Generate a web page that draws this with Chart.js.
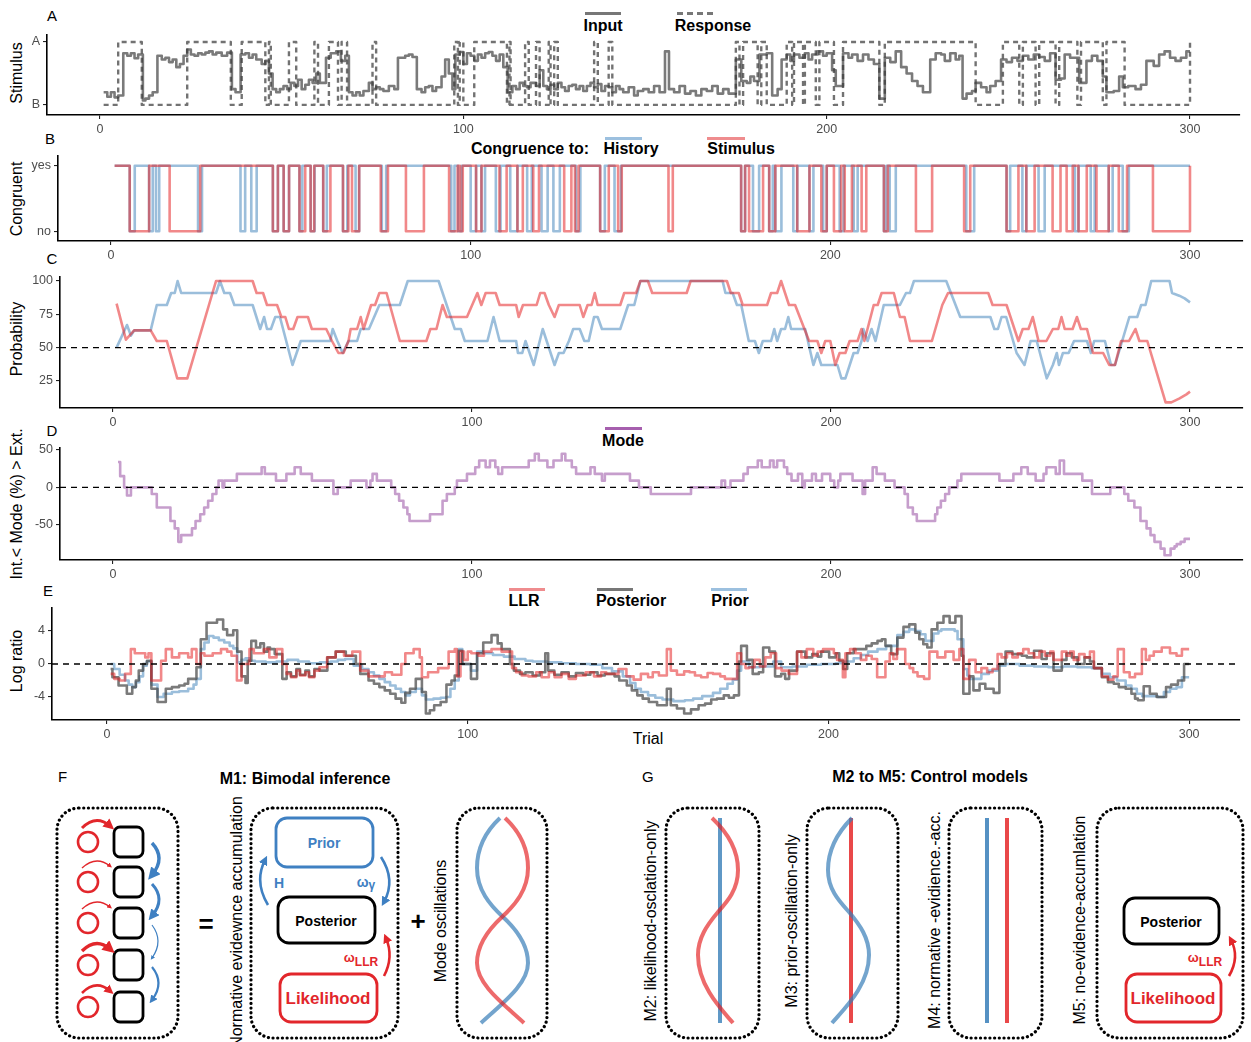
<!DOCTYPE html>
<html>
<head>
<meta charset="utf-8">
<script src="https://cdn.jsdelivr.net/npm/chart.js@4.4.1/dist/chart.umd.min.js"></script>
<style>
  body { margin:0; background:#fff; width:1251px; height:1042px; overflow:hidden; position:relative;
         font-family:'Liberation Sans', Arial, sans-serif; color:#000; }
  canvas { position:absolute; left:0; }
  .lab { position:absolute; font-size:15px; transform:translate(-50%,-50%); }
  .ytitle { position:absolute; font-size:16px; white-space:nowrap; transform:translate(-50%,-50%) rotate(-90deg); }
  .leg { position:absolute; font-size:16px; font-weight:bold; white-space:nowrap; transform:translate(-50%,-50%); }
  .key { position:absolute; height:0; border-top-width:3px; border-top-style:solid; }
  svg { position:absolute; left:0; top:0; }
</style>
</head>
<body>

<!-- panel letters -->
<div class="lab" style="left:52px;top:15px">A</div>
<div class="lab" style="left:50px;top:138px">B</div>
<div class="lab" style="left:52px;top:258px">C</div>
<div class="lab" style="left:52px;top:430px">D</div>
<div class="lab" style="left:48px;top:590px">E</div>

<!-- axis titles -->
<div class="ytitle" style="left:17px;top:73px">Stimulus</div>
<div class="ytitle" style="left:17px;top:199px">Congruent</div>
<div class="ytitle" style="left:17px;top:339px">Probability</div>
<div class="ytitle" style="left:17px;top:504px">Int.&lt; Mode (%) &gt; Ext.</div>
<div class="ytitle" style="left:17px;top:661px">Log ratio</div>
<div class="lab" style="left:648px;top:739px;font-size:16px">Trial</div>

<!-- legends -->
<div class="key" style="left:585px;top:12px;width:36px;border-top-color:#777"></div>
<div class="leg" style="left:603px;top:26px">Input</div>
<div class="key" style="left:677px;top:12px;width:36px;border-top-color:#777;border-top-style:dashed"></div>
<div class="leg" style="left:713px;top:26px">Response</div>

<div class="leg" style="left:530px;top:149px">Congruence to:</div>
<div class="key" style="left:605px;top:137px;width:37px;border-top-color:#9cc0df"></div>
<div class="leg" style="left:631px;top:149px">History</div>
<div class="key" style="left:707px;top:137px;width:38px;border-top-color:#ef8c8e"></div>
<div class="leg" style="left:741px;top:149px">Stimulus</div>

<div class="key" style="left:605px;top:427px;width:37px;border-top-color:#a65fae"></div>
<div class="leg" style="left:623px;top:441px">Mode</div>

<div class="key" style="left:509px;top:588px;width:36px;border-top-color:#ef8c8e"></div>
<div class="leg" style="left:524px;top:601px">LLR</div>
<div class="key" style="left:597px;top:588px;width:36px;border-top-color:#777"></div>
<div class="leg" style="left:631px;top:601px">Posterior</div>
<div class="key" style="left:711px;top:588px;width:36px;border-top-color:#9cc0df"></div>
<div class="leg" style="left:730px;top:601px">Prior</div>

<!-- model sketches -->
<svg width="1251" height="1042" font-family="Liberation Sans, Arial, sans-serif">
  <defs>
    <marker id="hR" viewBox="0 0 10 10" refX="5" refY="5" markerWidth="3.6" markerHeight="3.6" orient="auto">
      <path d="M0,0 L10,5 L0,10 z" fill="#e2262b"/>
    </marker>
    <marker id="hB" viewBox="0 0 10 10" refX="5" refY="5" markerWidth="3.6" markerHeight="3.6" orient="auto">
      <path d="M0,0 L10,5 L0,10 z" fill="#3f80c2"/>
    </marker>
  </defs>
  <g fill="none" stroke="#000" stroke-width="3.2" stroke-dasharray="0.1 4.6" stroke-linecap="round">
    <rect x="57" y="808" width="121" height="230" rx="22"/>
    <rect x="251" y="808" width="147" height="230" rx="22"/>
    <rect x="457" y="808" width="90" height="230" rx="22"/>
    <rect x="666" y="808" width="93" height="230" rx="22"/>
    <rect x="807" y="808" width="91" height="230" rx="22"/>
    <rect x="949" y="808" width="93" height="230" rx="22"/>
    <rect x="1097" y="808" width="146" height="230" rx="22"/>
  </g>
  <text x="58" y="782" font-size="15">F</text>
  <text x="305" y="784" font-size="16" font-weight="bold" text-anchor="middle">M1: Bimodal inference</text>
  <text x="642" y="782" font-size="15">G</text>
  <text x="930" y="782" font-size="16" font-weight="bold" text-anchor="middle">M2 to M5: Control models</text>

  <!-- F: trial chain -->
  <g fill="none" stroke="#e2262b" stroke-width="2.6">
    <circle cx="88" cy="842" r="10"/><circle cx="88" cy="882" r="10"/><circle cx="88" cy="923" r="10"/>
    <circle cx="88" cy="965" r="10"/><circle cx="88" cy="1007" r="10"/>
  </g>
  <g fill="none" stroke="#000" stroke-width="2.8">
    <rect x="114" y="827" width="29" height="30" rx="6"/><rect x="114" y="867" width="29" height="30" rx="6"/>
    <rect x="114" y="908" width="29" height="30" rx="6"/><rect x="114" y="950" width="29" height="30" rx="6"/>
    <rect x="114" y="992" width="29" height="30" rx="6"/>
  </g>
  <g fill="none" stroke="#e2262b">
    <path d="M82 828 Q96 814 110 826" stroke-width="3" marker-end="url(#hR)"/>
    <path d="M82 868 Q96 855 110 866" stroke-width="1.4" marker-end="url(#hR)"/>
    <path d="M82 909 Q96 896 110 907" stroke-width="1.4" marker-end="url(#hR)"/>
    <path d="M82 951 Q96 937 110 949" stroke-width="3.4" marker-end="url(#hR)"/>
    <path d="M82 993 Q96 979 110 991" stroke-width="2.6" marker-end="url(#hR)"/>
  </g>
  <g fill="none" stroke="#3f80c2">
    <path d="M152 843 Q166 858 152 875" stroke-width="3.4" marker-end="url(#hB)"/>
    <path d="M152 884 Q166 899 152 916" stroke-width="3" marker-end="url(#hB)"/>
    <path d="M152 925 Q164 941 152 958" stroke-width="1.2" marker-end="url(#hB)"/>
    <path d="M152 967 Q165 983 152 1000" stroke-width="2.2" marker-end="url(#hB)"/>
  </g>
  <text x="206" y="933" font-size="26" font-weight="bold" text-anchor="middle">=</text>
  <text transform="translate(242,922) rotate(-90)" font-size="16" text-anchor="middle">Normative evidewnce accumulation</text>

  <!-- F: bimodal inference scheme -->
  <rect x="276" y="818" width="97" height="49" rx="11" fill="none" stroke="#3f80c2" stroke-width="2.8"/>
  <text x="324" y="848" font-size="14" font-weight="bold" fill="#3f80c2" text-anchor="middle">Prior</text>
  <rect x="278" y="897" width="97" height="46" rx="11" fill="none" stroke="#000" stroke-width="2.8"/>
  <text x="326" y="926" font-size="14" font-weight="bold" text-anchor="middle">Posterior</text>
  <rect x="280" y="974" width="97" height="48" rx="11" fill="none" stroke="#e2262b" stroke-width="2.8"/>
  <text x="328" y="1004" font-size="17" font-weight="bold" fill="#e2262b" text-anchor="middle">Likelihood</text>
  <path d="M268 905 Q254 882 265 860" fill="none" stroke="#3f80c2" stroke-width="2.6" marker-end="url(#hB)"/>
  <text x="279" y="888" font-size="14" font-weight="bold" fill="#3f80c2" text-anchor="middle">H</text>
  <path d="M381 857 Q396 880 384 902" fill="none" stroke="#3f80c2" stroke-width="2.6" marker-end="url(#hB)"/>
  <text x="366" y="887" font-size="14" font-weight="bold" fill="#3f80c2" text-anchor="middle">ω<tspan font-size="12" dy="2">γ</tspan></text>
  <path d="M384 976 Q394 957 386 938" fill="none" stroke="#e2262b" stroke-width="2.6" marker-end="url(#hR)"/>
  <text x="361" y="962" font-size="13" font-weight="bold" fill="#e2262b" text-anchor="middle">ω<tspan font-size="12" dy="4">LLR</tspan></text>
  <text x="418" y="930" font-size="26" font-weight="bold" text-anchor="middle">+</text>
  <text transform="translate(446,921) rotate(-90)" font-size="16" text-anchor="middle">Mode oscillations</text>

  <!-- F: oscillating modes -->
  <path d="M500 818 C485 832,477 850,477 868 C477 890,490 905,503 917 C516 929,528 945,528 963 C528 985,500 1005,481 1023" fill="none" stroke="rgba(55,126,184,0.7)" stroke-width="4"/>
  <path d="M505 818 C520 832,528 850,528 868 C528 890,515 905,502 917 C489 929,477 945,477 963 C477 985,505 1005,524 1023" fill="none" stroke="rgba(228,26,28,0.65)" stroke-width="4"/>

  <!-- G: control models -->
  <text transform="translate(656,921) rotate(-90)" font-size="16" text-anchor="middle">M2: likelihood-osclation-only</text>
  <line x1="720" y1="818" x2="720" y2="1023" stroke="rgba(55,126,184,0.8)" stroke-width="4"/>
  <path d="M712 818 C727 832,738 850,738 870 C738 890,727 902,718 912 C707 925,698 938,698 955 C698 985,720 1008,733 1023" fill="none" stroke="rgba(228,26,28,0.65)" stroke-width="4"/>

  <text transform="translate(797,921) rotate(-90)" font-size="16" text-anchor="middle">M3: prior-oscillation-only</text>
  <line x1="851" y1="818" x2="851" y2="1023" stroke="rgba(228,26,28,0.8)" stroke-width="4"/>
  <path d="M852 818 C838 832,828 850,828 870 C828 890,840 902,849 912 C860 925,869 938,869 955 C869 985,845 1008,832 1023" fill="none" stroke="rgba(55,126,184,0.7)" stroke-width="4"/>

  <text transform="translate(940,920) rotate(-90)" font-size="16" text-anchor="middle">M4: normative -evidience.-acc.</text>
  <line x1="987" y1="818" x2="987" y2="1023" stroke="rgba(55,126,184,0.85)" stroke-width="4"/>
  <line x1="1007" y1="818" x2="1007" y2="1023" stroke="rgba(228,26,28,0.8)" stroke-width="4"/>

  <text transform="translate(1085,920) rotate(-90)" font-size="16" text-anchor="middle">M5: no-evidence-accumlation</text>
  <rect x="1124" y="898" width="95" height="46" rx="11" fill="none" stroke="#000" stroke-width="2.8"/>
  <text x="1171" y="927" font-size="14" font-weight="bold" text-anchor="middle">Posterior</text>
  <rect x="1126" y="974" width="95" height="48" rx="11" fill="none" stroke="#e2262b" stroke-width="2.8"/>
  <text x="1173" y="1004" font-size="17" font-weight="bold" fill="#e2262b" text-anchor="middle">Likelihood</text>
  <path d="M1229 976 Q1240 957 1231 940" fill="none" stroke="#e2262b" stroke-width="2.6" marker-end="url(#hR)"/>
  <text x="1205" y="962" font-size="13" font-weight="bold" fill="#e2262b" text-anchor="middle">ω<tspan font-size="12" dy="4">LLR</tspan></text>
</svg>

<script>
// ---------- data (trial, value) ----------
const trialTicks = [0, 100, 200, 300];

// A: stimulus input (0 = B, 1 = A), step changes
const stimInput = [[1,0.2],[2,0.13],[3,0.2],[4,0.12],[5,0.15],[6.4,0.82],[7.5,0.78],[8.5,0.82],[9.5,0.74],[10.5,0.8],
 [11.8,0.07],[12.5,0.1],[13.5,0.15],[14.5,0.2],[15.8,0.78],[17,0.72],[18,0.75],[19,0.68],[20,0.72],[21,0.6],[22,0.65],
 [23,0.78],[24,0.88],[25,0.8],[26,0.78],[27,0.82],[28,0.8],[29,0.83],[30,0.85],[31,0.8],[32,0.83],[33.5,0.78],[35,0.83],
 [36.3,0.25],[37.3,0.2],[38.7,0.8],[40,0.82],[41,0.75],[42,0.8],[43,0.72],[44.5,0.65],[45.5,0.7],[46.5,0.5],[47.5,0.25],
 [48.5,0.2],[49.5,0.25],[50.5,0.3],[51.5,0.25],[52.5,0.35],[53.5,0.3],[54.5,0.4],[55.5,0.25],[56.5,0.32],[57.5,0.4],
 [58.5,0.35],[59.5,0.5],[60.5,0.35],[62.2,0.75],[63.5,0.82],[65,0.85],[66.3,0.7],[67.5,0.78],[68.5,0.2],[69.5,0.15],
 [70.5,0.2],[71.5,0.15],[72.5,0.22],[74,0.35],[75,0.25],[76,0.28],[77,0.25],[78,0.22],[79.5,0.3],[81,0.25],[82,0.75],
 [84,0.78],[85,0.8],[86,0.76],[87.2,0.25],[88.5,0.2],[89.5,0.28],[90.5,0.3],[91.5,0.22],[92.5,0.28],[94,0.45],[95,0.72],
 [96,0.5],[97,0.25],[97.8,0.8],[99,0.84],[100,0.65],[101,0.82],[102,0.78],[103,0.7],[104,0.8],[105,0.75],[106,0.82],
 [107,0.84],[108,0.78],[109,0.7],[110,0.8],[111,0.6],[112.2,0.2],[113.5,0.3],[114.5,0.25],[115.5,0.35],[116.5,0.3],
 [117.5,0.28],[118.5,0.35],[120,0.3],[121,0.55],[122,0.3],[123,0.25],[124,0.32],[125,0.25],[126,0.35],[127,0.28],
 [128,0.22],[129,0.3],[130,0.32],[131,0.25],[132,0.3],[133,0.22],[134,0.3],[135,0.35],[136,0.28],[137,0.33],[138,0.22],
 [139,0.3],[140,0.28],[141,0.2],[142,0.3],[143,0.25],[144,0.2],[145.5,0.28],[147,0.15],[148,0.22],[149.5,0.25],[151,0.2],
 [152.5,0.3],[154,0.2],[155.5,0.85],[156.6,0.25],[158,0.2],[159.5,0.3],[161,0.18],[162.5,0.22],[164,0.15],[165.5,0.25],
 [167,0.22],[168.5,0.3],[170,0.18],[171.5,0.25],[173,0.18],[175,0.72],[176.5,0.38],[178,0.35],[179,0.45],[180,0.38],
 [181.5,0.8],[183.5,0.82],[185,0.15],[186.5,0.25],[187.6,0.72],[189,0.8],[190,0.7],[191,0.8],[192.5,0.75],[194,0.82],
 [195,0.72],[196,0.8],[197.5,0.85],[199,0.78],[200,0.82],[201.5,0.55],[202.5,0.3],[204.5,0.82],[206,0.75],[207,0.8],
 [208.5,0.7],[210,0.8],[211.5,0.72],[213,0.65],[214.5,0.1],[216,0.75],[217.5,0.68],[219,0.85],[220.5,0.6],[222,0.5],
 [223.5,0.38],[225,0.3],[226.5,0.2],[228.5,0.72],[230,0.82],[231.5,0.8],[232.5,0.7],[234,0.82],[235.5,0.72],[236.5,0.78],
 [237.4,0.1],[238.5,0.18],[240,0.22],[241,0.35],[242.5,0.28],[244,0.2],[245,0.3],[246.5,0.38],[248,0.72],[249.5,0.68],
 [251,0.75],[252.5,0.7],[254,0.78],[255.5,0.72],[257,0.8],[258.5,0.76],[260,0.7],[261.5,0.82],[263,0.4],[264.5,0.42],
 [265.5,0.8],[267,0.75],[269.5,0.35],[271.5,0.7],[273,0.78],[274.5,0.7],[276,0.45],[277,0.2],[279,0.22],[280.5,0.45],
 [281.5,0.28],[283,0.3],[285,0.25],[286.5,0.32],[288,0.7],[290,0.62],[291.5,0.8],[293,0.85],[294.5,0.75],[296,0.7],
 [297.5,0.75],[299,0.85],[300,0.85]];

// A: response (0 = B, 1 = A), step changes
const stimResponse = [[1,0],[5,1],[11.5,0],[24,1],[36,0],[39,1],[45.5,0],[46.5,1],[47,0],[52,1],[54,0],[59,1],[60,0],
 [63,1],[65.5,0],[66.5,1],[68,0],[75,1],[76,0],[97.5,1],[98.5,0],[99,1],[100,0],[103,1],[112,0],[112.7,1],[113,0],
 [117,1],[118,0],[120,1],[121,0],[123.5,1],[124,0],[125,1],[126,0],[136,1],[137,0],[140,1],[141,0],[175,1],[176,0],
 [177,1],[181,0],[182,1],[183.5,0],[189,1],[190.5,0],[191,1],[193.5,0],[194,1],[197,0],[198,1],[202,0],[204.5,1],
 [214.5,0],[216,1],[241,0],[248.5,1],[253,0],[254,1],[257.5,0],[258.5,1],[263,0],[264,1],[269,0],[270,1],[276,0],
 [277,1],[282,0],[300,1]];

// B: intervals (start, end) where the response was not congruent
const historyNo = [[5.2,6.6],[10.6,11.6],[12.5,13.4],[24.2,25.3],[36,37.3],[39,40.5],[45,46.4],[48,49.5],[52.4,53.2],
 [55.5,56.6],[59,60],[64.5,65.7],[68,69],[75.3,76.5],[94.6,95.5],[96.5,97.5],[100,101.5],[103,104],[107,108.3],[111,113],
 [115.7,117],[119.7,121.4],[123,124.8],[129.3,130.5],[136,137.3],[140,141.8],[175.2,176.3],[178.5,180.2],[183,184],
 [184.7,186.4],[189.7,190.8],[194.2,195.3],[198,199],[202.6,203.7],[206.5,207.6],[214.9,215.6],[216.5,218.2],[237.8,240],
 [249,250],[253.4,254.5],[257.9,259.6],[268,269],[272.4,273.5],[277.4,278.5],[281.3,283]];
const stimulusNo = [[5.2,10.6],[16.3,24.8],[45,46.4],[48,49.5],[52.4,54],[55.5,56.5],[59,61],[64.5,66],[67,69],[75,77],
 [82,87],[94,96.4],[97,97.8],[101.5,103],[108,110],[113,114.5],[117.4,119],[126,128],[129,130],[136,138.4],[141,142],
 [155,156.2],[175.2,176.3],[177.4,181.3],[183,184.7],[190.8,194.2],[197.5,199],[201,203],[204,206],[208.7,210],
 [214.9,216],[223.8,228.3],[237.2,238.9],[249,252.3],[254.5,256.8],[261.8,264],[265.7,267.4],[269,271.3],[274,277.4],
 [280.2,282.5],[289.7,300]];

// C: running probabilities (%)
const probHistory = [[1,50],[3.9,67],[5,59],[5.9,63],[10.5,63],[12.2,82],[15,82],[16.2,91],[17.2,91],[18,100],[19,91],
 [28.7,91],[29.8,100],[31,91],[32.6,91],[33.8,82],[38.9,82],[41,64],[42.1,73],[42.9,64],[44,64],[45.2,73],[46.5,73],
 [50,37],[52.3,55],[60.5,55],[61.2,64],[62.5,55],[64,46],[65.6,55],[68,55],[69,64],[71.3,64],[74.2,82],[79.9,82],
 [82.1,100],[90.7,100],[95.2,64],[96.9,64],[98,55],[104.3,55],[106,73],[107.7,55],[112.3,55],[112.8,46],[114,46],
 [114.9,55],[117.2,37],[119.7,64],[123,37],[124.2,46],[125.5,46],[127,55],[128.2,64],[130,64],[131.3,55],[132.5,55],
 [134,73],[135,73],[136.2,64],[141.3,64],[143.5,82],[145.2,82],[146.9,100],[169.8,100],[170.6,91],[172.6,91],[173.8,82],
 [175,82],[177.1,55],[178.8,55],[179.9,46],[181,55],[183.3,55],[184.2,64],[185,55],[186.1,64],[187.2,64],[188.1,73],
 [188.9,64],[192.8,64],[195.1,37],[196.2,46],[197.3,37],[201.8,37],[202.9,27],[204,27],[206.3,46],[207.4,46],[208.5,55],
 [209,64],[210.2,55],[211.3,64],[212.4,55],[214.7,82],[219.2,82],[220.9,91],[222,91],[223.1,100],[232.1,100],[236,73],
 [244.4,73],[245.5,64],[246.5,64],[247.5,73],[248.8,73],[251.7,46],[253.9,37],[255.6,55],[257.3,55],[260.1,27],
 [261.8,37],[262.9,46],[263.5,37],[264.6,46],[266.2,46],[267.7,55],[271.3,55],[272.4,46],[273.3,55],[276.3,55],[278,37],
 [279.1,37],[283.1,73],[285.3,73],[286.4,82],[287.6,82],[289.2,100],[294.3,100],[295,91],[297,89],[298.5,87],[300,84]];
const probStimulus = [[1,83],[3.6,56],[5.9,63],[10.5,63],[12.2,55],[15,55],[17.9,27],[20.7,27],[28.7,100],[38.9,100],
 [40,91],[41.8,91],[42.9,82],[45.7,82],[46.9,73],[48,73],[49,64],[50.2,64],[51.4,73],[54.3,73],[55.4,64],[59.4,64],
 [61,55],[62.8,46],[64.2,46],[65.6,55],[66.2,64],[68,64],[69,73],[69.8,64],[71.9,82],[73,82],[74.2,91],[76.2,91],
 [79.9,55],[87.3,55],[88.4,64],[90.1,64],[91.8,82],[93,73],[98.6,73],[101.5,91],[102.6,82],[103.8,91],[106.6,91],
 [107.7,82],[112.3,82],[113,73],[114.2,82],[118,82],[119,91],[120.2,91],[121.4,82],[123,73],[124.2,82],[130,82],[131,73],
 [132.2,82],[133.3,82],[134.2,91],[135,82],[141.3,82],[142.4,91],[145.7,91],[146.9,100],[149,100],[150.2,91],[159.8,91],
 [160.9,100],[171,100],[172.1,91],[174.3,91],[175.4,82],[182.2,82],[183.3,91],[185,91],[186.1,100],[187.2,91],[188.3,82],
 [190,82],[193.9,55],[196.2,55],[197.3,46],[198.4,55],[199.8,55],[201.2,37],[202.4,46],[204,46],[205.2,55],[207.4,55],
 [208.5,64],[209.3,55],[211.9,82],[213,82],[214.1,91],[217.5,91],[219.2,73],[220.5,73],[222,55],[228.1,55],[231,82],
 [232.6,91],[243.8,91],[245,82],[248.9,82],[250,73],[252.2,55],[253.4,64],[255,64],[256.2,73],[257.8,55],[260,55],
 [261.8,64],[263.3,64],[264.2,73],[265.1,64],[267.3,64],[268.5,73],[269.6,64],[271.3,64],[273,46],[275.8,46],[277.5,37],
 [279.1,37],[280.8,55],[283,55],[284.8,64],[285.9,55],[288.1,55],[293.2,9],[294.8,9],[297.1,12],[299,15],[300,17]];

// D: mode (%), step changes
const modeSeries = [[1.4,34],[2,15],[3.1,0],[3.9,-11],[5,0],[10.8,-9],[12.2,-27],[16,-45],[17.2,-55],[18.2,-73],[19,-64],
 [22,-55],[23,-45],[24.3,-36],[25.4,-27],[26.5,-18],[27.7,-9],[28.8,0],[29.4,9],[30.5,0],[31,9],[34.5,18],[41.4,27],
 [42.3,18],[45.4,9],[48.3,18],[50.6,27],[52.3,18],[55.4,9],[61.4,-9],[62.6,0],[66.2,9],[70.6,0],[71.7,9],[72.3,18],
 [73.5,9],[77.5,0],[78.6,-9],[79.7,-18],[80.9,-27],[82,-36],[82.6,-45],[88.3,-36],[91.8,-18],[93,-9],[95.2,0],[95.8,9],
 [98.6,18],[100.9,27],[102,36],[103.8,27],[105,36],[106.5,27],[107.3,18],[108.4,27],[115.8,36],[117.5,45],[118.6,36],
 [121,27],[122.7,36],[125,45],[126,36],[127.8,27],[129,18],[133,27],[134.2,18],[136.2,9],[137,18],[144,9],[146.5,0],
 [149.8,-9],[161,0],[169.5,9],[170.5,0],[172,9],[175.6,18],[176.8,27],[179.6,36],[180.7,27],[183,36],[184,27],[185,36],
 [186.9,27],[187.8,18],[189,9],[190.8,18],[192,0],[192.7,9],[194.7,18],[195.8,9],[197.5,18],[199.8,9],[200.9,0],[202,9],
 [202.6,18],[206,9],[208.8,-9],[209.5,9],[211.6,27],[212.7,18],[215,9],[217.7,0],[220.5,-9],[221.4,-27],[222.8,-36],
 [223.9,-45],[229,-36],[229.6,-27],[230.6,-18],[231.8,-9],[232.9,0],[235.2,9],[236.3,18],[246.9,9],[250.8,18],[253,27],
 [254.8,18],[257,9],[259.2,18],[260,27],[262.6,18],[263.7,36],[264.9,18],[270,9],[272.7,-9],[277.8,0],[281.7,-9],
 [282.8,-18],[284.5,-27],[286.2,-45],[287.9,-55],[289,-64],[290.1,-73],[291.8,-82],[292.9,-91],[294.6,-82],[295.7,-79],
 [296.3,-76],[297.4,-73],[298.5,-69],[300,-69]];

// E: log ratios, step changes
const llrSeries = [[1,-1.2],[2,-1.8],[3.5,-2.0],[5,-1.2],[6.6,1.8],[7.7,1.3],[10.6,0.8],[11.5,1.3],[12.3,-2.0],[15,0.4],
 [16.3,1.8],[18,0.8],[20,1.3],[22.5,0.8],[23.5,1.8],[24.8,0],[26,1.3],[27,1.0],[29.3,1.3],[31.6,1.8],[33.3,1.5],[34.5,1.0],
 [36,-2.0],[37.3,0],[39.5,1.8],[40.7,1.3],[43.5,1.8],[45,0.8],[47,1.8],[48.6,0],[49.8,-1.2],[51,-1.6],[52.5,-0.8],
 [53.5,-1.4],[55,-1.0],[56,-1.6],[57.5,-0.8],[58.9,-0.4],[61,0.8],[63.4,1.5],[65.7,1.0],[68,1.5],[70.2,-0.8],[72.5,-1.5],
 [77,-1.0],[79,-1.3],[81.6,0],[82.7,1.3],[85,1.8],[86.7,0.8],[87.3,-1.6],[89,-1.0],[91.8,-0.5],[94.7,1.5],[96.4,1.8],
 [97,-1.5],[98,1.5],[99,0.5],[100,1.5],[101,1.3],[103,1.0],[104.5,1.5],[106.6,1.8],[109.4,1.5],[112.3,-0.5],[113.4,-1.0],
 [115,-1.4],[116.8,-1.5],[119,-1.0],[120.5,-1.6],[122.5,-1.0],[124.1,-1.6],[126,-1.2],[128,-1.8],[130,-1.4],[132.7,-1.0],
 [135,-1.5],[137,-1.0],[138.4,-1.2],[141.8,-0.6],[144,-1.5],[146,-1.9],[148,-1.2],[150,-1.6],[151.3,-1.0],[153,-1.4],
 [155.2,1.8],[156.3,-0.8],[158,-1.3],[160,-0.9],[161.5,-1.0],[163,-1.4],[164.7,-1.6],[166.5,-1.1],[168,-1.2],[170,-1.5],
 [171.3,-1.8],[174.7,1.3],[175.8,0],[177,-0.5],[178,-0.4],[179.5,0.5],[181,-0.3],[182.5,0.8],[184,1.3],[185.5,-0.5],
 [187,-0.8],[189,-1.2],[191.3,1.5],[192.5,0.8],[194,1.8],[195.8,1.0],[197,1.5],[198.5,1.8],[200.2,1.8],[201.5,1.3],
 [202.4,0.5],[204,-1.6],[204.7,1.3],[206,1.8],[207.5,1.3],[209,0.5],[210.5,1.0],[212,0.6],[213.5,-1.6],[215.8,0.3],
 [217,1.3],[218,0.6],[219,1.8],[221.3,0],[222.5,-0.5],[223.5,-1.0],[224.7,-1.5],[226.5,-1.8],[228,1.5],[230.2,0.8],
 [232.4,1.5],[234.7,0.5],[236.3,1.8],[237.4,-1.8],[239,0.5],[240.8,-1.0],[242.4,-0.5],[244,-1.0],[245.5,-0.6],[246.9,1.2],
 [248,0.8],[249.5,1.3],[251,0.8],[252.5,1.3],[254,1.8],[255.5,1.3],[257,0.8],[258.5,1.5],[260,1.0],[261.5,1.5],
 [262.4,0.5],[264.7,1.5],[266,1.0],[267,1.5],[268,0.5],[269.5,1.2],[271,0.8],[272.5,1.5],[273.6,-0.5],[275.8,-1.5],
 [277.5,-1.9],[279,-1.5],[280.2,1.8],[281.9,-1.0],[283.5,-1.6],[285,-1.2],[286.9,1.8],[288,0.5],[289,1.0],[290.2,1.5],
 [292.4,2.0],[294.7,1.3],[296.5,1.0],[298,1.8],[300,1.8]];
const posteriorSeries = [[1,-0.6],[1.5,-1.6],[3.2,-2.6],[5.5,-3.6],[7,-2.8],[8,-2.0],[8.8,-0.8],[10,0],[11.1,0.4],
 [12.3,-3.0],[14,-4.6],[16.3,-3.0],[18,-2.8],[20,-2.6],[21.5,-2.4],[22.5,-1.8],[24.8,-0.4],[26,3.0],[27.6,5.0],[30.5,5.4],
 [32.2,4.2],[33.3,3.5],[35,4.1],[36.1,1.5],[37.3,-1.5],[38.4,-2.3],[39,0.4],[40,2.8],[41.3,2.0],[42.5,2.5],[43.5,1.5],
 [44.5,2.0],[45.2,1.8],[46.5,1.2],[48.6,-1.8],[49.8,-1.0],[51,-1.5],[52.5,-0.6],[53.5,-1.3],[55,-0.8],[56,-1.5],
 [57.5,-0.6],[58.9,-0.8],[61.1,0.8],[63.4,1.5],[66.2,1.0],[69,0],[70.2,-1.2],[72.5,-2.0],[74,-2.4],[75.5,-2.8],[77,-3.2],
 [78.5,-3.6],[80,-4.2],[81.6,-4.7],[82.7,-3.5],[84,-3.0],[85.6,-1.8],[87.3,-3.4],[88.4,-6.0],[89.5,-5.6],[90.7,-5.0],
 [92.5,-4.6],[94.1,-2.5],[95.5,-2.0],[96.4,-1.4],[97.5,1.6],[98.5,0],[100.9,-1.8],[102.6,1.3],[104.3,2.6],[106.6,3.5],
 [108.3,2.5],[109.4,1.8],[111.7,0],[112.8,-0.8],[114.5,-1.2],[116,-1.0],[118,-1.4],[120,-1.0],[121.5,1.3],[122.3,-0.8],
 [124,-1.3],[126,-1.0],[128,-1.5],[130,-1.1],[132,-1.3],[134,-1.0],[136,-1.4],[138,-1.2],[140.7,-1.5],[142,-2.0],
 [144.1,-2.6],[145.5,-3.2],[147,-3.8],[148.5,-4.2],[150.2,-4.6],[152.5,-5.0],[155.2,-3.0],[156.3,-5.0],[158,-5.4],
 [160,-6.0],[161.9,-5.5],[164,-5.0],[165.8,-4.8],[167.5,-4.3],[169.1,-4.2],[171,-3.8],[172.4,-4.1],[173.8,-3.8],
 [175.2,0.3],[175.8,2.2],[177.4,0.5],[179,-1.2],[180.7,-1.0],[181.9,2.0],[183.6,1.5],[185.2,-1.5],[186.9,-1.2],[188,-1.8],
 [189.1,-0.8],[191.3,1.5],[193.6,0.8],[195.5,1.2],[197,0.9],[198,1.5],[200.2,0.8],[202,1.3],[203,0.4],[204.1,-0.6],
 [205.2,1.3],[207,1.8],[209.1,1.8],[210.5,2.2],[212,2.5],[213.6,2.8],[214.8,3.0],[215.8,2.2],[217.4,1.2],[219.1,3.2],
 [220.8,4.5],[222.4,4.8],[224.1,3.8],[225.2,3.0],[226.3,2.4],[227.4,2.0],[228.6,4.2],[230.2,5.0],[231.9,5.8],[233.6,5.0],
 [235.2,5.8],[236.9,1.0],[237.4,-3.6],[239.1,-1.5],[240.2,-3.2],[241.9,-2.4],[243.5,-3.0],[245.8,-3.5],[247.4,0],
 [249.1,1.5],[251,1.2],[253.6,1.0],[255,0.8],[257,1.6],[259.1,0.6],[260.5,1.3],[262.4,-0.8],[264.7,0.5],[266,1.3],
 [267.5,0.8],[269.1,0],[271,0.8],[272.5,0.3],[273.6,-0.5],[275.8,-1.6],[277.5,-2.2],[279.1,-2.4],[280.5,-2.8],[282.4,-3.0],
 [284,-3.6],[285,-4.2],[285.8,-4.4],[287.4,-2.7],[289.1,-3.6],[291,-4.0],[293.6,-2.8],[295,-2.5],[296.9,-2.0],[298.6,0],
 [300,0]];
const priorSeries = [[1,0],[2,-0.6],[3.5,-1.3],[5,-2.0],[6,-2.5],[7,-2.8],[8,-2.2],[9,-1.5],[10,-0.2],[11,0.3],[12.3,-2.5],
 [14,-4.0],[15.7,-3.6],[18,-3.4],[20,-3.3],[22.5,-3.0],[24,-2.5],[24.8,-1.8],[26,1.8],[27,2.6],[28.2,3.4],[29.5,3.2],
 [31,2.9],[32.5,2.6],[34,2.2],[35,1.9],[36.1,0.2],[37.3,0.5],[38.4,0.7],[39.5,0.4],[41,0.3],[44,0.2],[47,0.3],[50,0.5],
 [53,0.3],[56,0.1],[59,0.2],[62,0.3],[64,0.5],[66,0.6],[68.4,-0.2],[70.7,-0.6],[72.5,-1.0],[74,-1.4],[75.5,-1.8],
 [77,-2.2],[78.5,-2.6],[80,-3.0],[81.5,-3.4],[82.7,-3.8],[84,-3.4],[85.6,-3.0],[87.3,-3.8],[88.4,-4.3],[90.5,-4.2],
 [92.5,-4.1],[94,-4.0],[95.2,-3.0],[96.4,-2.0],[97.5,1.8],[98.5,0],[100.9,-0.8],[102.6,1.5],[104.3,1.3],[107,1.1],
 [110,0.9],[113,0.6],[116,0.4],[118,0.3],[122,0.2],[126,0.1],[130,0],[134,-0.1],[137.3,-0.5],[140,-0.9],[143,-1.5],
 [145,-2.3],[146.5,-3.0],[148,-3.4],[150,-3.8],[152,-4.1],[154,-4.3],[157,-4.5],[160.2,-4.4],[162.5,-4.2],[165,-3.9],
 [168,-3.5],[170,-3.0],[172,-2.4],[173.5,-1.9],[174.7,-0.8],[175.8,0.3],[178,-0.4],[181,-0.3],[184.7,0.3],[186.9,-0.4],
 [190,-0.3],[194,-0.1],[198,0],[202,0.1],[204.7,0.3],[207,0.7],[209,1.1],[211,1.5],[213.6,1.8],[216,2.2],[219.1,3.5],
 [220.8,3.9],[222.4,4.2],[224,4.0],[225.5,3.6],[226.9,2.8],[229.1,3.7],[230.5,4.0],[231.3,4.2],[233.5,4.2],[235,4.0],
 [235.8,3.0],[237.4,-0.6],[238.5,-1.4],[239.1,-1.8],[242.4,-1.2],[244.5,-0.8],[246.9,-0.2],[249.1,0],[253,-0.2],
 [257,-0.3],[261,-0.4],[265,-0.3],[269,-0.4],[273,-0.5],[275.8,-1.2],[278,-1.6],[280,-2.0],[282.4,-2.6],[284,-3.0],
 [285.5,-3.6],[287,-3.9],[291.3,-4.0],[293,-3.4],[294.7,-3.0],[296.5,-2.8],[298,-1.6],[300,-1.6]];

// ---------- helpers ----------
const pts = arr => arr.map(([x, y]) => ({ x, y }));
function congruence(noIntervals) {
  const out = [{ x: 1, y: 1 }];
  noIntervals.forEach(([a, b]) => { out.push({ x: a, y: 0 }, { x: b, y: 1 }); });
  if (out[out.length - 1].x < 300) out.push({ x: 300, y: 1 });
  return out;
}

const BLUE = 'rgba(55,126,184,0.5)';
const RED = 'rgba(228,26,28,0.52)';
const GRAY = 'rgba(70,70,70,0.72)';
const PURPLE = 'rgba(152,78,163,0.55)';

function series(data, color, opts = {}) {
  return Object.assign({ data, borderColor: color, borderWidth: 2.6, pointRadius: 0, fill: false,
    tension: 0, stepped: false, borderJoinStyle: 'round', borderCapStyle: 'butt' }, opts);
}
function refLine(xMin, xMax, y) {
  return { data: [{ x: xMin, y }, { x: xMax, y }], borderColor: '#000', borderWidth: 1.3,
    borderDash: [6, 5], pointRadius: 0, fill: false };
}

Chart.defaults.font.family = "'Liberation Sans', Arial, sans-serif";

function panel(cfg) {
  const c = document.createElement('canvas');
  const padTop = 12, xBox = 26;
  c.width = 1251;
  c.height = cfg.B - cfg.T + padTop + xBox;
  c.style.top = (cfg.T - padTop) + 'px';
  document.body.appendChild(c);
  const axisGrid = { display: true, drawOnChartArea: false, drawTicks: true, tickLength: 4, color: '#222', lineWidth: 1.1 };
  const axisBorder = { display: true, color: '#000', width: 1.6 };
  new Chart(c, {
    type: 'line',
    data: { datasets: cfg.datasets },
    options: {
      responsive: false, animation: false, events: [],
      layout: { padding: { left: 0, right: 1251 - cfg.R, top: padTop, bottom: 0 } },
      plugins: { legend: { display: false }, tooltip: { enabled: false } },
      scales: {
        x: {
          type: 'linear', min: cfg.xMin, max: cfg.xMax,
          afterBuildTicks: s => { s.ticks = trialTicks.map(v => ({ value: v })); },
          afterFit: s => { s.height = xBox; },
          grid: axisGrid, border: axisBorder,
          ticks: { color: '#4d4d4d', font: { size: 12.5 }, padding: 3, maxRotation: 0, autoSkip: false,
                   callback: v => String(v) }
        },
        y: {
          type: 'linear', min: cfg.yMin, max: cfg.yMax,
          afterBuildTicks: s => { s.ticks = cfg.yTicks.map(v => ({ value: v })); },
          afterFit: s => { s.width = cfg.L; },
          grid: axisGrid, border: axisBorder,
          ticks: { color: '#4d4d4d', font: { size: 12.5 }, padding: 3, autoSkip: false,
                   callback: v => (cfg.yNames ? cfg.yNames[v] : String(v)) }
        }
      }
    }
  });
}

// A
panel({ L: 47, R: 1240, T: 35, B: 115, xMin: -14.59, xMax: 313.76, yMin: -0.16, yMax: 1.11,
  yTicks: [0, 1], yNames: { 0: 'B', 1: 'A' },
  datasets: [
    series(pts(stimResponse), 'rgba(60,60,60,0.72)', { stepped: 'before', borderDash: [5, 4], borderWidth: 2.4 }),
    series(pts(stimInput), 'rgba(85,85,85,0.78)', { stepped: 'before' })
  ] });

// B
panel({ L: 58, R: 1243, T: 156, B: 241, xMin: -14.74, xMax: 314.74, yMin: -0.15, yMax: 1.15,
  yTicks: [0, 1], yNames: { 0: 'no', 1: 'yes' },
  datasets: [
    series(congruence(stimulusNo), RED, { stepped: 'before' }),
    series(congruence(historyNo), BLUE, { stepped: 'before' })
  ] });

// C
panel({ L: 60, R: 1243, T: 277, B: 408, xMin: -14.76, xMax: 314.76, yMin: 4.75, yMax: 103,
  yTicks: [25, 50, 75, 100],
  datasets: [
    refLine(-14.76, 314.76, 50),
    series(pts(probStimulus), RED),
    series(pts(probHistory), BLUE)
  ] });

// D
panel({ L: 60, R: 1243, T: 448, B: 560, xMin: -14.76, xMax: 314.76, yMin: -97.3, yMax: 52.7,
  yTicks: [-50, 0, 50],
  datasets: [
    refLine(-14.76, 314.76, 0),
    series(pts(modeSeries), PURPLE, { stepped: 'before' })
  ] });

// E
panel({ L: 52, R: 1240, T: 608, B: 720, xMin: -15.25, xMax: 314.1, yMin: -6.79, yMax: 6.79,
  yTicks: [-4, 0, 4],
  datasets: [
    refLine(-15.25, 314.1, 0),
    series(pts(llrSeries), RED, { stepped: 'before' }),
    series(pts(posteriorSeries), GRAY, { stepped: 'before' }),
    series(pts(priorSeries), BLUE, { stepped: 'before' })
  ] });
</script>
</body>
</html>
